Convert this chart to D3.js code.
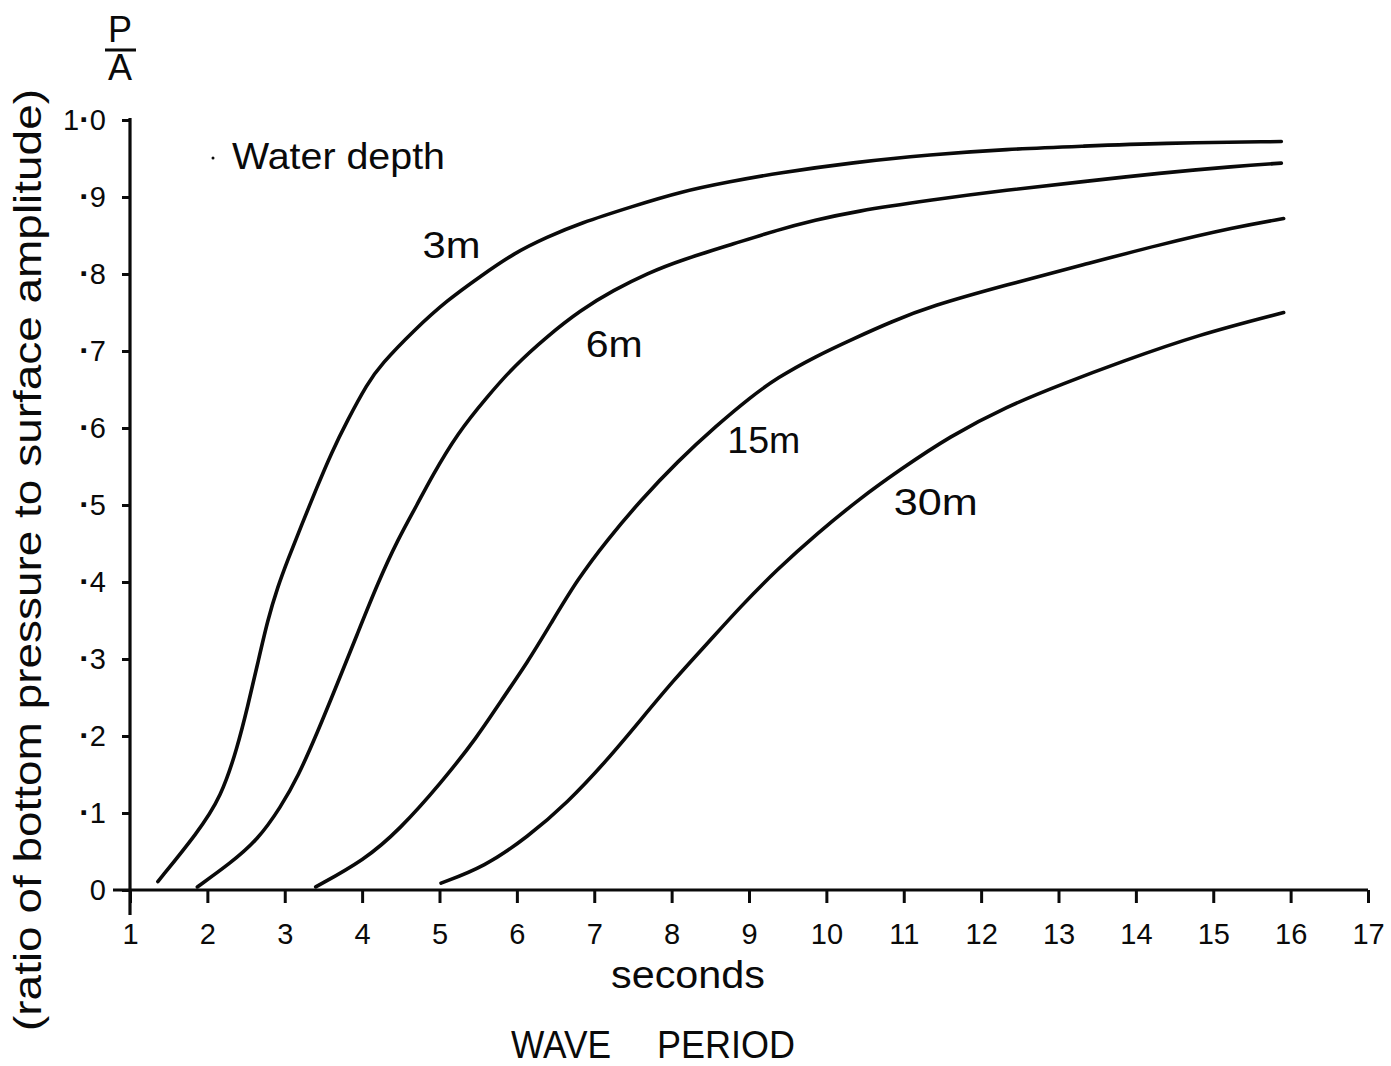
<!DOCTYPE html>
<html><head><meta charset="utf-8">
<script src="https://cdn.jsdelivr.net/npm/d3@7"></script>
<style>
html,body{margin:0;padding:0;background:#fff;}
svg{display:block;}
text{font-family:"Liberation Sans",Arial,Helvetica,sans-serif;fill:#0a0a0a;}
</style></head><body>
<svg id="chart" width="1391" height="1066"></svg>
<script>
// ---- data ----
const xTicks = [1,2,3,4,5,6,7,8,9,10,11,12,13,14,15,16,17];
const yTicks = [0,0.1,0.2,0.3,0.4,0.5,0.6,0.7,0.8,0.9,1.0];
const yTickLabels = ["0","·1","·2","·3","·4","·5","·6","·7","·8","·9","1·0"];
const depths = ["3m","6m","15m","30m"];

const period3m = [1.36,1.87,2.18,2.39,2.52,2.65,2.78,2.91,3.04,3.21,3.42,3.60,3.81,4.07,4.24,4.67,5.10,5.53,5.96,6.39,6.82,7.47,8.12,8.76,9.36,10.35,11.34,12.33,13.32,14.30,15.88];
const ratio3m  = [0.011,0.074,0.121,0.186,0.238,0.294,0.351,0.394,0.429,0.472,0.524,0.567,0.610,0.658,0.682,0.727,0.766,0.797,0.827,0.848,0.866,0.887,0.907,0.920,0.931,0.945,0.955,0.962,0.966,0.970,0.972];

const period6m = [1.87,2.30,2.65,2.95,3.17,3.42,3.68,3.94,4.20,4.46,4.72,4.89,5.23,5.62,5.96,6.39,6.82,7.25,7.69,8.12,8.83,9.36,9.86,10.35,11.34,12.33,13.32,14.30,15.29,15.88];
const ratio6m  = [0.004,0.035,0.065,0.108,0.147,0.204,0.268,0.333,0.398,0.455,0.502,0.535,0.593,0.641,0.680,0.719,0.753,0.779,0.801,0.818,0.840,0.857,0.870,0.881,0.896,0.909,0.920,0.931,0.940,0.944];

const period15m = [3.40,4.03,4.48,5.02,5.49,5.79,6.14,6.44,6.78,7.17,7.60,8.07,8.59,9.02,9.36,9.86,10.35,10.84,11.34,12.33,13.32,14.30,15.29,15.91];
const ratio15m  = [0.004,0.039,0.078,0.139,0.199,0.245,0.296,0.346,0.403,0.455,0.506,0.556,0.604,0.640,0.665,0.693,0.716,0.738,0.758,0.786,0.812,0.838,0.861,0.872];

const period30m = [5.02,5.58,6.14,6.65,7.17,7.60,8.03,8.46,8.89,9.36,9.88,10.44,10.94,11.59,12.33,13.07,13.81,14.80,15.91];
const ratio30m  = [0.009,0.030,0.069,0.113,0.169,0.221,0.273,0.320,0.368,0.416,0.463,0.509,0.545,0.589,0.628,0.658,0.686,0.721,0.750];

const seriesPeriods = [period3m, period6m, period15m, period30m];
const seriesRatios  = [ratio3m, ratio6m, ratio15m, ratio30m];

// ---- layout ----
const svg = d3.select("#chart");
svg.append("rect").attr("width",1391).attr("height",1066).attr("fill","#fff");
const ink = "#0a0a0a";
const font = '"Liberation Sans",Arial,Helvetica,sans-serif';
const x = d3.scaleLinear().domain([1,17]).range([130,1368]);
const y = d3.scaleLinear().domain([0,1]).range([890,120]);

// axes
const gx = svg.append("g").attr("transform",`translate(0,${y(0)})`)
  .call(d3.axisBottom(x).tickValues(xTicks).tickSize(13).tickSizeOuter(0).tickPadding(20).tickFormat(d3.format("d")));
gx.select(".domain").remove();
gx.selectAll(".tick line").attr("stroke",ink).attr("stroke-width",3);
gx.selectAll(".tick text").attr("font-size",29).attr("font-family",font).attr("fill",ink);

const gy = svg.append("g").attr("transform",`translate(${x(1)},0)`)
  .call(d3.axisLeft(y).tickValues(yTicks).tickSize(8).tickSizeOuter(0).tickPadding(16).tickFormat(""));
gy.select(".domain").remove();
gy.selectAll(".tick line").attr("stroke",ink).attr("stroke-width",3);
gy.selectAll(".tick text").each(function(d,i){
  const t = d3.select(this).attr("font-size",29).attr("font-family",font).attr("fill",ink);
  const parts = yTickLabels[i].split("·");
  parts.forEach((p,k)=>{
    if(k>0) t.append("tspan").attr("font-weight","bold").attr("font-size",32).text("·");
    if(p) t.append("tspan").text(p);
  });
});

// axis lines
svg.append("line").attr("x1",x(1)-17).attr("x2",x(17)).attr("y1",y(0)).attr("y2",y(0))
  .attr("stroke",ink).attr("stroke-width",3.2);
svg.append("line").attr("x1",x(1)).attr("x2",x(1)).attr("y1",y(1)-2).attr("y2",y(0)+25)
  .attr("stroke",ink).attr("stroke-width",3.2);

// curves
const line = d3.line().x(d=>x(d[0])).y(d=>y(d[1])).curve(d3.curveBasis);
seriesPeriods.forEach((p,i)=>{
  const pts = p.map((t,j)=>[t, seriesRatios[i][j]]);
  svg.append("path").attr("d",line(pts)).attr("fill","none").attr("stroke",ink)
    .attr("stroke-width",3.6).attr("stroke-linecap","round").attr("stroke-linejoin","round");
});

// curve labels (anchored in data coords)
const labelAt = [[4.78,0.821],[6.89,0.692],[8.72,0.568],[10.87,0.487]];
const labelLen = [58,57,73,84];
depths.forEach((d,i)=>{
  svg.append("text").attr("x",x(labelAt[i][0])).attr("y",y(labelAt[i][1]))
    .attr("font-size",37).attr("textLength",labelLen[i]).attr("lengthAdjust","spacingAndGlyphs").text(d);
});

// legend heading
svg.append("circle").attr("cx",213).attr("cy",158).attr("r",1.5).attr("fill",ink);
svg.append("text").attr("x",232).attr("y",169).attr("font-size",36)
  .attr("textLength",213).attr("lengthAdjust","spacingAndGlyphs").text("Water depth");

// P/A
svg.append("text").attr("x",120).attr("y",42).attr("text-anchor","middle").attr("font-size",36).text("P");
svg.append("line").attr("x1",105).attr("x2",136).attr("y1",50).attr("y2",50).attr("stroke",ink).attr("stroke-width",3);
svg.append("text").attr("x",120).attr("y",80).attr("text-anchor","middle").attr("font-size",36).text("A");

// y title
svg.append("text").attr("transform","translate(41,1031) rotate(-90)")
  .attr("font-size",38).attr("textLength",942).attr("lengthAdjust","spacingAndGlyphs")
  .text("(ratio of bottom pressure to surface amplitude)");

// x titles
svg.append("text").attr("x",611).attr("y",988).attr("font-size",38)
  .attr("textLength",154).attr("lengthAdjust","spacingAndGlyphs").text("seconds");
svg.append("text").attr("x",511).attr("y",1058).attr("font-size",38)
  .attr("textLength",100).attr("lengthAdjust","spacingAndGlyphs").text("WAVE");
svg.append("text").attr("x",657).attr("y",1058).attr("font-size",38)
  .attr("textLength",138).attr("lengthAdjust","spacingAndGlyphs").text("PERIOD");
</script>
</body></html>
